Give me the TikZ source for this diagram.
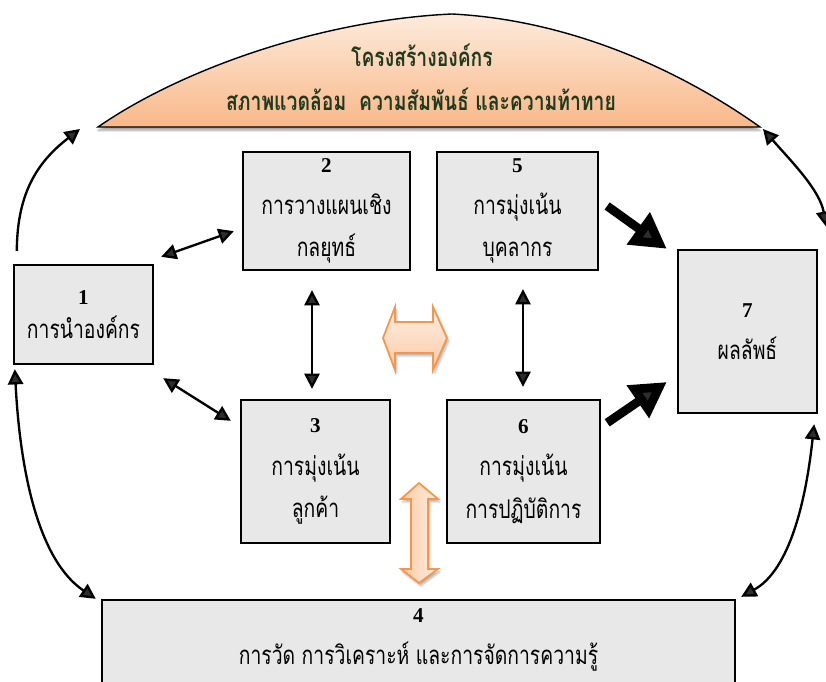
\documentclass[tikz,border=0pt]{standalone}
\usepackage{fontspec}
\newfontfamily\thaifont[Script=Thai,FakeStretch=0.75]{Loma}
\newfontfamily\numfont{Liberation Serif}
\usetikzlibrary{arrows.meta,calc,shadows.blur}

\definecolor{boxgray}{HTML}{E8E8E8}
\definecolor{domedark}{HTML}{F9B889}
\definecolor{domelight}{HTML}{FDEBDC}
\definecolor{titlegreen}{HTML}{1F3A1F}
\definecolor{orangeline}{HTML}{F79646}
\definecolor{peachlight}{HTML}{FEF0E6}
\definecolor{peachdark}{HTML}{FBC9A2}

\newcommand\boxnum[1]{{\numfont\bfseries\fontsize{18}{18}\selectfont #1}}

\tikzset{
  stagebox/.style={draw=black, line width=2pt, fill=boxgray, align=center,
    inner sep=0pt, font=\thaifont\fontsize{22}{36}\selectfont},
  boxsize/.style 2 args={minimum width=#1*0.03cm, minimum height=#2*0.03cm},
  link/.style={line width=2pt, {Triangle[length=13pt,width=13pt]}-{Triangle[length=13pt,width=13pt]}},
  onelink/.style={line width=2pt, -{Triangle[length=13pt,width=13pt]}},
  boldlink/.style={line width=7.5pt, -{Triangle[length=30pt,width=32pt]}},
  blockarrow/.style={draw=orangeline, line width=1.5pt, line join=miter,
    blur shadow={shadow xshift=1.5pt, shadow yshift=-2.5pt, shadow opacity=30, shadow blur steps=6}},
  titletext/.style={font=\thaifont\bfseries\fontsize{22}{22}\selectfont, text=titlegreen}
}

\begin{document}
\begin{tikzpicture}[x=0.03cm, y=-0.03cm]
\useasboundingbox (0,0) rectangle (826,682);
\begin{scope}
\clip (0,0) rectangle (826,682);

% dome: organisational profile
\path[draw=black, line width=1.2pt, top color=domelight, bottom color=domedark,
  blur shadow={shadow xshift=0pt, shadow yshift=-3pt, shadow opacity=35, shadow blur steps=6}]
  (98,127) .. controls (180,70) and (320,20) .. (452,14)
  .. controls (570,20) and (680,70) .. (760,127) -- cycle;
\coordinate (domeL) at (80,129);
\coordinate (domeR) at (763,129);
\node[titletext] (prof1) at (422,55) {โครงสร้างองค์กร};
\node[titletext] (prof2) at (421,99) {สภาพแวดล้อม\enspace ความสัมพันธ์ และความท้าทาย};

% the seven categories
\node[stagebox, boxsize={139}{99}, font=\thaifont\fontsize{22}{29}\selectfont] (b1) at (83.5,314.5) {\boxnum{1}\\ การนำองค์กร};
\node[stagebox, boxsize={167}{118}] (b2) at (326.5,211) {\boxnum{2}\\ การวางแผนเชิง\\ กลยุทธ์};
\node[stagebox, boxsize={161}{118}] (b5) at (517.5,211) {\boxnum{5}\\ การมุ่งเน้น\\ บุคลากร};
\node[stagebox, boxsize={139}{163}] (b7) at (747.5,331.5) {\boxnum{7}\\ ผลลัพธ์};
\node[stagebox, boxsize={149}{143}] (b3) at (315.5,471.5) {\boxnum{3}\\ การมุ่งเน้น\\ ลูกค้า};
\node[stagebox, boxsize={153}{143}] (b6) at (523.5,471.5) {\boxnum{6}\\ การมุ่งเน้น\\ การปฏิบัติการ};
\node[stagebox, boxsize={633}{100}] (b4) at (418.5,650) {};
\node[font=\thaifont\fontsize{22}{36}\selectfont, align=center, inner sep=0pt, anchor=north]
  (b4text) at (418.5,608) {\boxnum{4}\\ การวัด การวิเคราะห์ และการจัดการความรู้};

% links between categories
\draw[link] ([shift={(7,-7)}]b1.north east) -- ([shift={(-8,-40)}]b2.south west);
\draw[link] ([shift={(9,13)}]b1.south east) -- ([shift={(-9,22)}]b3.north west);
\draw[link] ([shift={(-14.5,19)}]b2.south) -- ([shift={(-3.5,-10)}]b3.north);
\draw[link] ([shift={(5.5,18)}]b5.south) -- ([shift={(-0.5,-12)}]b6.north);
\draw[boldlink] ([shift={(8,-5)}]b5.east) -- ([shift={(-10,0)}]b7.north west);
\draw[boldlink] ([shift={(6,24)}]b6.north east) -- ([shift={(-10,50.5)}]b7.west);

% outer loop
\draw[onelink] ([shift={(4,-13)}]b1.north west) .. controls (17,190) and (40,160) .. (domeL);
\draw[link] ([shift={(2,4)}]b1.south west) .. controls (20,470) and (38,560) .. ([shift={(-5,0)}]b4.north west);
\draw[link] ([shift={(-4,10)}]b7.south east) .. controls (806,500) and (790,570) .. ([shift={(5,-2)}]b4.north east);
\draw[link] (domeR) .. controls (790,160) and (820,190) .. ([shift={(8,-22)}]b7.north east);

% block arrows
\path[blockarrow, top color=peachlight, bottom color=peachdark]
  (383,338) -- (395,307) -- (395,322) -- (433,322) -- (433,307) -- (447,338)
  -- (433,370) -- (433,353) -- (395,353) -- (395,370) -- cycle;
\path[blockarrow, left color=peachdark, right color=peachlight]
  (419,483) -- (438,499) -- (428,499) -- (428,569) -- (438,569) -- (419,583)
  -- (401,569) -- (411,569) -- (411,499) -- (401,499) -- cycle;
\end{scope}
\end{tikzpicture}
\end{document}
